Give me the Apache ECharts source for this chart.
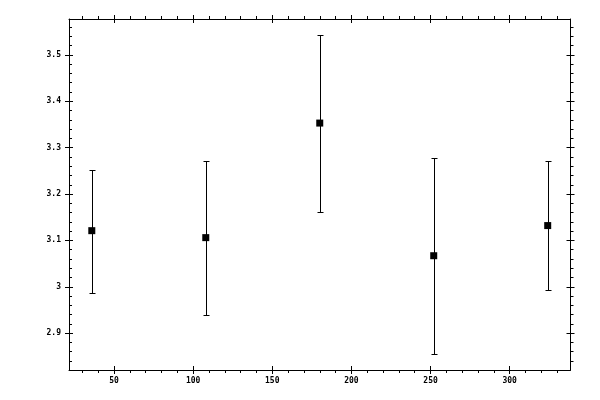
<!DOCTYPE html>
<html>
<head>
<meta charset="utf-8">
<script src="https://cdn.jsdelivr.net/npm/echarts@6/dist/echarts.min.js"></script>
<style>
html,body{margin:0;padding:0;background:#fff;}
#mychart{width:600px;height:400px;}
</style>
</head>
<body>
<div id="mychart"></div>
<script>
// data
var xValues = [36, 108, 180, 252, 324];
var means = [3.121, 3.106, 3.353, 3.067, 3.132];
var lower = [2.987, 2.939, 3.162, 2.855, 2.994];
var upper = [3.252, 3.272, 3.543, 3.277, 3.271];

var xTicks = [50, 100, 150, 200, 250, 300];
var yTicks = [2.9, 3, 3.1, 3.2, 3.3, 3.4, 3.5];

var xMin = 21.6, xMax = 338.4;
var yMin = 2.8206, yMax = 3.5774;

// minor ticks between the labelled ones
function minors(from, to, step, major) {
    var out = [];
    for (var i = 0; ; i++) {
        var v = Math.round((from + i * step) * 1000) / 1000;
        if (v > to) break;
        if (major.indexOf(v) < 0) out.push(v);
    }
    return out;
}
var xMinor = minors(30, 330, 10, xTicks);
var yMinor = minors(2.84, 3.56, 0.02, yTicks);

var font = 'DejaVu Sans Mono';

function minorAxis(pos, inside, isX) {
    return {
        type: 'value', position: pos, min: isX ? xMin : yMin, max: isX ? xMax : yMax,
        axisLine: {show: true, lineStyle: {color: '#000', width: 1}},
        axisTick: {show: true, inside: inside, length: 3, customValues: isX ? xMinor : yMinor,
            lineStyle: {color: '#000', width: 1}},
        axisLabel: {show: false},
        splitLine: {show: false}
    };
}
function majorAxis(pos, isX, labels) {
    return {
        type: 'value', position: pos, offset: -4, min: isX ? xMin : yMin, max: isX ? xMax : yMax,
        axisLine: {show: false},
        axisTick: {show: true, inside: false, length: 8, customValues: isX ? xTicks : yTicks,
            lineStyle: {color: '#000', width: 1}},
        axisLabel: {show: labels, customValues: isX ? xTicks : yTicks, margin: isX ? 11 : 12,
            color: '#000', fontFamily: font, fontSize: 8, fontWeight: 'bold'},
        splitLine: {show: false}
    };
}

var points = [], bars = [];
for (var i = 0; i < xValues.length; i++) {
    points.push([xValues[i], means[i]]);
    bars.push([xValues[i], lower[i], upper[i]]);
}

// snap to pixel centres so the 1px lines stay crisp
function px(v) { return Math.round(v) + 0.5; }

var myChart = echarts.init(document.getElementById('mychart'));
var option = {
    animation: false,
    grid: {left: 69, top: 19, width: 501.5, height: 351},
    xAxis: [
        minorAxis('bottom', false, true),
        majorAxis('bottom', true, true),
        minorAxis('top', false, true),
        majorAxis('top', true, false)
    ],
    yAxis: [
        minorAxis('left', true, false),
        majorAxis('left', false, true),
        minorAxis('right', false, false),
        majorAxis('right', false, false)
    ],
    series: [
        {
            type: 'custom',
            xAxisIndex: 0, yAxisIndex: 0,
            data: bars,
            renderItem: function (params, api) {
                var lo = api.coord([api.value(0), api.value(1)]);
                var hi = api.coord([api.value(0), api.value(2)]);
                var x = px(lo[0]), y1 = px(lo[1]), y2 = px(hi[1]);
                var w = 3;
                var st = {stroke: '#000', lineWidth: 1};
                return {
                    type: 'group',
                    children: [
                        {type: 'line', shape: {x1: x, y1: y1, x2: x, y2: y2}, style: st},
                        {type: 'line', shape: {x1: x - w, y1: y1, x2: x + w, y2: y1}, style: st},
                        {type: 'line', shape: {x1: x - w, y1: y2, x2: x + w, y2: y2}, style: st}
                    ]
                };
            },
            z: 2
        },
        {
            type: 'scatter',
            xAxisIndex: 0, yAxisIndex: 0,
            data: points,
            symbol: 'rect',
            symbolSize: 7,
            itemStyle: {color: '#000', opacity: 1},
            z: 3
        }
    ]
};
myChart.setOption(option, true);
</script>
</body>
</html>
